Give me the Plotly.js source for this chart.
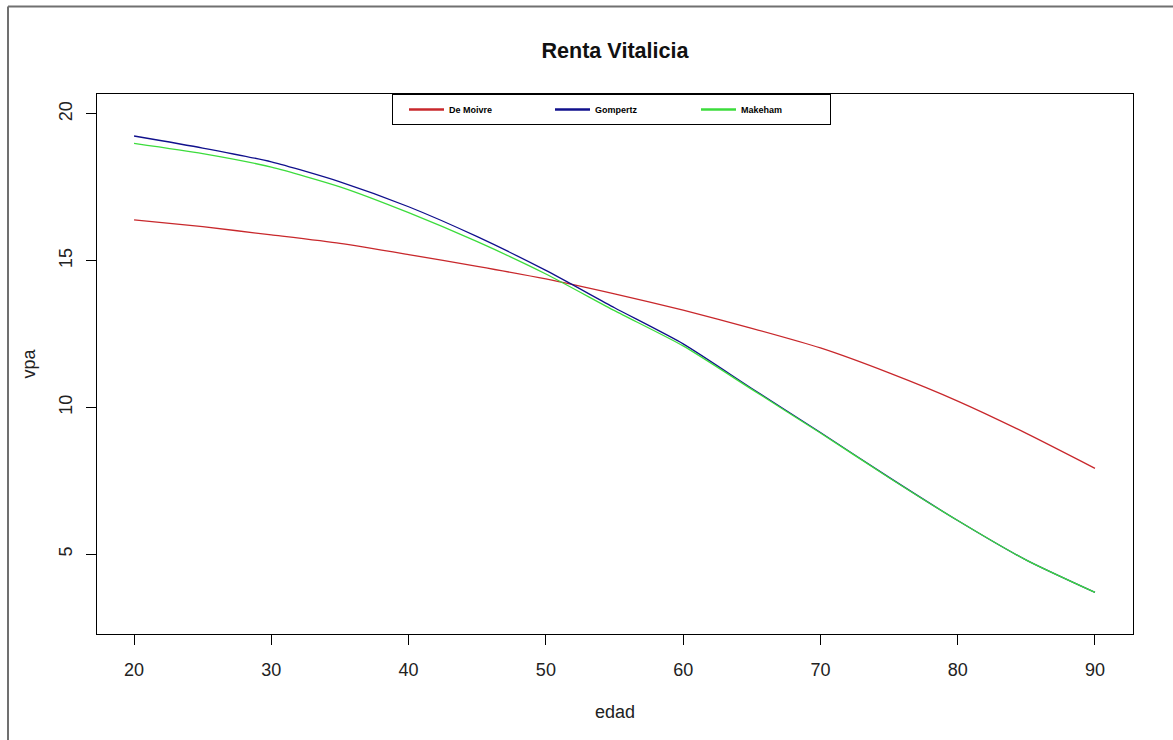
<!DOCTYPE html>
<html>
<head>
<meta charset="utf-8">
<script src="https://cdn.plot.ly/plotly-3.0.1.min.js"></script>
<style>html,body{margin:0;padding:0;background:#fff;}#chart{width:1173px;height:740px;}</style>
</head>
<body>
<div id="chart"></div>
<script>
const edad = [20,25,30,35,40,45,50,55,60,65,70,75,80,85,90];
const deMoivre = [16.39,16.16,15.88,15.59,15.21,14.81,14.38,13.87,13.32,12.70,12.03,11.18,10.22,9.12,7.93];
const gompertz = [19.25,18.84,18.37,17.69,16.84,15.82,14.67,13.40,12.17,10.65,9.15,7.62,6.15,4.80,3.70];
const makeham  = [19.00,18.65,18.19,17.52,16.64,15.65,14.55,13.30,12.10,10.62,9.13,7.61,6.15,4.80,3.70];
const seriesNames = ["De Moivre","Gompertz","Makeham"];
const xTicks = [20,30,40,50,60,70,80,90];
const yTicks = [5,10,15,20];

const FONT = "Liberation Sans, Arial, sans-serif";
const colors = ["#c8282c","#10108c","#3cdc3c"];
const ys = [deMoivre, gompertz, makeham];

// curves (no legend entries)
const traces = ys.map((y,i)=>({
  x: edad, y: y, type: "scatter", mode: "lines", name: seriesNames[i],
  showlegend: false, legendgroup: seriesNames[i],
  line: {color: colors[i], width: 1.3, shape: "spline", smoothing: 0.6}
}));
// legend keys, drawn with a thicker line as in the reference
ys.forEach((y,i)=>traces.push({
  x: [null], y: [null], type: "scatter", mode: "lines", name: seriesNames[i],
  legendgroup: seriesNames[i], showlegend: true,
  line: {color: colors[i], width: 2.4}
}));

const L = 97, T = 94, R = 1133, B = 634, W = 1173, H = 740;
const pw = R - L, ph = B - T;
const px = v => (v - L) / pw;
const py = v => (B - v) / ph;

const layout = {
  width: W, height: H,
  margin: {l: L, r: W - R, t: T, b: H - B, pad: 0},
  paper_bgcolor: "#fff", plot_bgcolor: "#fff",
  font: {family: FONT, size: 18, color: "#222"},
  title: {text: "<b>Renta Vitalicia</b>", font: {family: FONT, size: 21.6, color: "#111"},
          x: 0.5, xref: "paper", y: 1 - 50/H, yref: "container", yanchor: "middle"},
  xaxis: {
    range: [17.3, 92.77], tickvals: xTicks, ticktext: xTicks.map(String),
    ticks: "outside", ticklen: 10, tickwidth: 1, tickcolor: "#000",
    showline: true, mirror: true, linecolor: "#000", linewidth: 1,
    showgrid: false, zeroline: false, ticklabelstandoff: 9,
    tickfont: {family: FONT, size: 18, color: "#222"},
    title: {text: "edad", font: {family: FONT, size: 18, color: "#222"}, standoff: 26}
  },
  yaxis: {
    range: [2.285, 20.681], tickvals: yTicks, ticktext: yTicks.map(String),
    ticks: "outside", ticklen: 10, tickwidth: 1, tickcolor: "#000", tickangle: -90,
    showline: true, mirror: true, linecolor: "#000", linewidth: 1,
    showgrid: false, zeroline: false, ticklabelstandoff: 7,
    tickfont: {family: FONT, size: 18, color: "#222"},
    title: {text: "vpa", font: {family: FONT, size: 18, color: "#222"}, standoff: 15}
  },
  showlegend: true,
  legend: {
    orientation: "h", x: px(392), y: 1, xanchor: "left", yanchor: "top",
    bgcolor: "#fff", bordercolor: "#000", borderwidth: 1,
    font: {family: "Liberation Sans Narrow, Liberation Sans, Arial, sans-serif", size: 9, color: "#000", weight: "bold"},
    entrywidth: 84, entrywidthmode: "pixels", itemwidth: 35, indentation: 12, valign: "middle"
  },
  shapes: [
    {type: "line", xref: "paper", yref: "paper", x0: px(8), x1: px(W + 5), y0: py(6.5), y1: py(6.5),
     line: {color: "#707070", width: 2}},
    {type: "line", xref: "paper", yref: "paper", x0: px(8), x1: px(8), y0: py(6.5), y1: py(H + 5),
     line: {color: "#707070", width: 2}}
  ]
};

Plotly.newPlot("chart", traces, layout, {staticPlot: true, displayModeBar: false});
</script>
</body>
</html>
